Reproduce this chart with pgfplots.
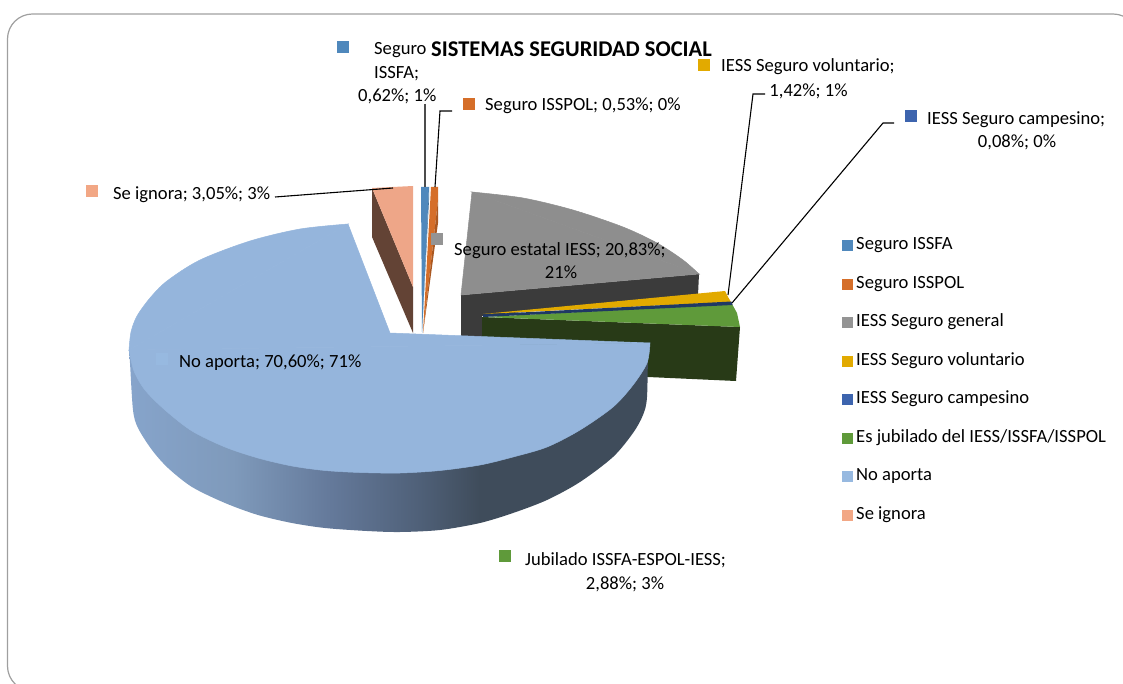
\documentclass[border=0pt]{standalone}
\usepackage{fontspec}
\setmainfont{Carlito}
\usepackage{pgfplots}
\pgfplotsset{compat=1.18}
\definecolor{wa}{HTML}{86A4CB}
\definecolor{wb}{HTML}{7F9ABB}
\definecolor{wc}{HTML}{64799A}
\definecolor{wd}{HTML}{4F6078}
\definecolor{we}{HTML}{3F4C5B}
\pgfdeclarehorizontalshading{wall}{100bp}{color(0bp)=(wa); color(25bp)=(wa); color(35bp)=(wb); color(44.5bp)=(wc); color(53bp)=(wd); color(58.8bp)=(we); color(100bp)=(we)}
\definecolor{cissfa}{HTML}{4F88BC}
\definecolor{cisspol}{HTML}{D56E29}
\definecolor{cgris}{HTML}{949494}
\definecolor{cgtop}{HTML}{8E8E8E}
\definecolor{cgwall}{HTML}{3B3B3B}
\definecolor{cvol}{HTML}{E2AA00}
\definecolor{ccamp}{HTML}{3D64AE}
\definecolor{cjub}{HTML}{5F9A3A}
\definecolor{cno}{HTML}{97B9E0}
\definecolor{cign}{HTML}{F2A785}
\definecolor{cigntop}{HTML}{EEA688}
\definecolor{cpie}{HTML}{95B5DC}
\definecolor{jubw}{HTML}{283A17}
\definecolor{ccampd}{HTML}{1F3864}
\definecolor{brownw}{HTML}{634335}
\newcommand{\lab}{\fontsize{18.6}{22}\selectfont}
\begin{document}
\begin{tikzpicture}
\begin{axis}[
 scale only axis,width=1123pt,height=684pt,
 xmin=0,xmax=1123,ymin=0,ymax=684,y dir=reverse,
 hide axis,
 pie/.style={forget plot,draw=none,mark=none},
 tapa/.style={forget plot,mark=none,draw=#1,fill=#1,line width=.5pt},
 lead/.style={forget plot,mark=none,black,line width=1.1pt},
 sq/.style={forget plot,only marks,mark=square*,mark size=5.5pt,mark options={draw=#1,fill=#1,line width=0pt}},
 legend image code/.code={\fill[#1,draw=none] (0pt,-5.5pt) rectangle (11pt,5.5pt);},
 legend style={at={(axis cs:842,234.5)},anchor=north west,draw=none,fill=none,
  font=\lab,row sep=16.5pt,inner sep=0pt,column sep=0pt,
  nodes={inner sep=3pt,anchor=west,text height=12pt,text depth=4pt}},
 legend cell align=left,
]
% marco
\draw[gray!75,line width=1.2pt,rounded corners=25pt] (axis cs:7.5,14) rectangle (axis cs:1138,691);

% IESS general
\addplot[pie,fill=cgwall] coordinates {(461,295) (699,274) (698,295) (482,316) (482,340) (461,340)} --cycle;
\addplot[tapa=cgtop] coordinates {(472,192) (461,295) (699,274)} --cycle;
\addplot[tapa=cgtop,smooth] coordinates {(472,192) (523,198) (573,210) (623,227) (657,243) (683,260) (699,274)} --cycle;
% voluntario
\addplot[pie,fill=cvol] coordinates {(483,314) (725,291) (728,297) (731,302)} --cycle;
% jubilado, pared
\addplot[pie,fill=jubw] coordinates {(482,317) (740,327) (736,381) (648,377) (482,345)} --cycle;
% jubilado, tapa
\addplot[pie,fill=cjub] coordinates {(483,317) (732,304) (737,313) (740,327)} --cycle;
% campesino
\addplot[pie,fill=ccampd] coordinates {(483,314.5) (731.5,301.5) (732.5,305) (483,317)} --cycle;
% se ignora
\addplot[pie,fill=brownw] coordinates {(372,188) (413,287) (413,333) (372,237)} --cycle;
\addplot[pie,fill=cigntop] coordinates {(372,188) (413,186) (413,287)} --cycle;
% ISSFA
\addplot[pie,fill=cissfa] coordinates {(421,187) (429,187) (422,333)} --cycle;
\addplot[pie,fill=cissfa!85!black] coordinates {(429,200) (429,187) (422,333)} --cycle;
% ISSPOL
\addplot[pie,fill=cisspol] coordinates {(431,187) (438,187) (438,200) (423,333)} --cycle;
\addplot[pie,fill=cisspol!80!black] coordinates {(438,200) (438,223) (423,333)} --cycle;
% no aporta, pared
\addplot[pie,shading=wall,smooth] coordinates {(129,350) (130,363) (133,410) (138,428) (152,450) (168,468) (192,487) (225,503) (258,515) (292,523) (325,528) (367,531) (400,532) (440,530) (480,523) (513,513) (547,500) (580,482) (613,457) (633,433) (643,415) (647,397) (648,345)} --cycle;
% no aporta, tapa
\addplot[tapa=cpie] coordinates {(650,343) (390,333) (348,224) (129,350)} --cycle;
\addplot[tapa=cpie,smooth] coordinates {(650,343) (647,363) (633,385) (613,407) (580,430) (547,447) (513,457) (480,465) (440,470.5) (400,473) (360,472.5) (325,470.5) (292,466) (258,458) (225,447) (192,431) (165,410) (145,390) (134,371) (129,350)} --cycle;
\addplot[tapa=cpie,smooth] coordinates {(129,350) (131,332) (137,316) (150,298) (167,281) (200,260) (250,241) (300,229) (348,224)} --cycle;

% lineas guia
\addplot[lead,black!70] coordinates {(425,104) (425,187)};
\addplot[lead] coordinates {(452,111) (440,111) (435,187)};
\addplot[lead] coordinates {(765,94) (753,94) (728,295)};
\addplot[lead] coordinates {(894,123) (883,123) (732,303)};
\addplot[lead] coordinates {(275,197) (393,188)};

% marcadores de las etiquetas
\addplot[sq=cissfa] coordinates {(343,47)};
\addplot[sq=cisspol] coordinates {(469,104)};
\addplot[sq=cvol] coordinates {(704,65)};
\addplot[sq=ccamp] coordinates {(911,116)};
\addplot[sq=cign] coordinates {(92,191)};
\addplot[sq=cgris] coordinates {(437,239)};
\addplot[sq=cno] coordinates {(162,359)};
\addplot[sq=cjub] coordinates {(505,556)};

% leyenda
\addlegendimage{fill=cissfa}\addlegendentry{Seguro ISSFA}
\addlegendimage{fill=cisspol}\addlegendentry{Seguro ISSPOL}
\addlegendimage{fill=cgris}\addlegendentry{IESS Seguro general}
\addlegendimage{fill=cvol}\addlegendentry{IESS Seguro voluntario}
\addlegendimage{fill=ccamp}\addlegendentry{IESS Seguro campesino}
\addlegendimage{fill=cjub}\addlegendentry{Es jubilado del IESS/ISSFA/ISSPOL}
\addlegendimage{fill=cno}\addlegendentry{No aporta}
\addlegendimage{fill=cign}\addlegendentry{Se ignora}

% textos
\node[anchor=west,inner sep=0pt,font=\fontsize{22.5}{26}\selectfont\bfseries] at (axis cs:431,49) {SISTEMAS SEGURIDAD SOCIAL};
\tikzset{et/.style={anchor=base west,inner sep=0pt,font=\lab},ec/.style={anchor=base,inner sep=0pt,font=\lab}}
\node[et] at (axis cs:374,55) {Seguro};
\node[et] at (axis cs:374,79) {ISSFA;};
\node[et] at (axis cs:358,102) {0,62\%; 1\%};
\node[et] at (axis cs:485,111) {Seguro ISSPOL; 0,53\%; 0\%};
\node[et] at (axis cs:721,72) {IESS Seguro voluntario;};
\node[ec] at (axis cs:808.5,97) {1,42\%; 1\%};
\node[et] at (axis cs:927,125) {IESS Seguro campesino;};
\node[ec] at (axis cs:1017,148) {0,08\%; 0\%};
\node[et] at (axis cs:113,200) {Se ignora; 3,05\%; 3\%};
\node[et] at (axis cs:454,256) {Seguro estatal IESS; 20,83\%;};
\node[ec] at (axis cs:561,279) {21\%};
\node[et] at (axis cs:179,367) {No aporta; 70,60\%; 71\%};
\node[et] at (axis cs:525,565) {Jubilado ISSFA-ESPOL-IESS;};
\node[ec] at (axis cs:625,589) {2,88\%; 3\%};
\end{axis}
\pgfresetboundingbox
\path (0,0) rectangle (1123pt,684pt);
\end{tikzpicture}
\end{document}
